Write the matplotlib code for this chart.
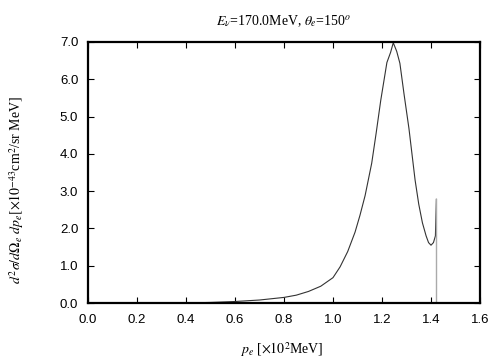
import matplotlib
matplotlib.use("Agg")
import matplotlib.pyplot as plt

# data
p_e = [0.43, 0.5, 0.6, 0.7, 0.8, 0.85, 0.9, 0.95, 1.0, 1.029, 1.06, 1.09, 1.11,
       1.131, 1.158, 1.176, 1.195, 1.22, 1.235, 1.246, 1.26, 1.273, 1.29,
       1.31, 1.335, 1.35, 1.365, 1.38, 1.39, 1.40, 1.41, 1.418, 1.422]
xsec = [0.005, 0.015, 0.04, 0.08, 0.15, 0.21, 0.31, 0.45, 0.68, 0.97, 1.38, 1.9, 2.35,
        2.88, 3.75, 4.55, 5.44, 6.45, 6.72, 6.98, 6.75, 6.43, 5.6,
        4.68, 3.3, 2.65, 2.15, 1.8, 1.62, 1.55, 1.62, 1.8, 2.78]
edge_x = [1.422, 1.422]
edge_y = [2.78, 0.0]

xticks = [0.0, 0.2, 0.4, 0.6, 0.8, 1.0, 1.2, 1.4, 1.6]
yticks = [0.0, 1.0, 2.0, 3.0, 4.0, 5.0, 6.0, 7.0]

plt.rcParams['mathtext.fontset'] = 'stix'
serif = ['Liberation Serif', 'DejaVu Serif']
sans = ['Liberation Sans', 'DejaVu Sans']

fig = plt.figure(figsize=(5.04, 3.6), dpi=100)
ax = fig.add_axes([88/504, 1-303/360, (480-88)/504, (303-42)/360])

ax.plot(p_e, xsec, color='#333333', lw=0.8)
ax.plot(edge_x, edge_y, color='#aaaaaa', lw=1.0)

ax.set_xlim(0, 1.6)
ax.set_ylim(0, 7.0)
ax.set_xticks(xticks)
ax.set_yticks(yticks)
ax.set_xticklabels([f"{v:.1f}" for v in xticks], family=sans, fontsize=9.5)
ax.set_yticklabels([f"{v:.1f}" for v in yticks], family=sans, fontsize=9.5)
ax.tick_params(axis='x', direction='in', length=4, width=0.8, top=True, pad=8)
ax.tick_params(axis='y', direction='in', length=4, width=0.8, right=True, pad=7)
for s in ax.spines.values():
    s.set_linewidth(1.6)

ax.set_title(r"$E_\nu$=170.0MeV, $\theta_e$=150$^o$", family=serif, fontsize=10, pad=12)
fig.text(282/504, 1-350/360, r"$p_e$ [$\times10^2$MeV]", family=serif, fontsize=10,
         ha='center', va='center')
fig.text(17/504, 1-190/360,
         r"$d^2\sigma/d\Omega_e\ dp_e[\times10^{-43}$cm$^2$/sr MeV]",
         family=serif, fontsize=10, rotation=90, ha='center', va='center')

fig.savefig("out.png", dpi=100)
